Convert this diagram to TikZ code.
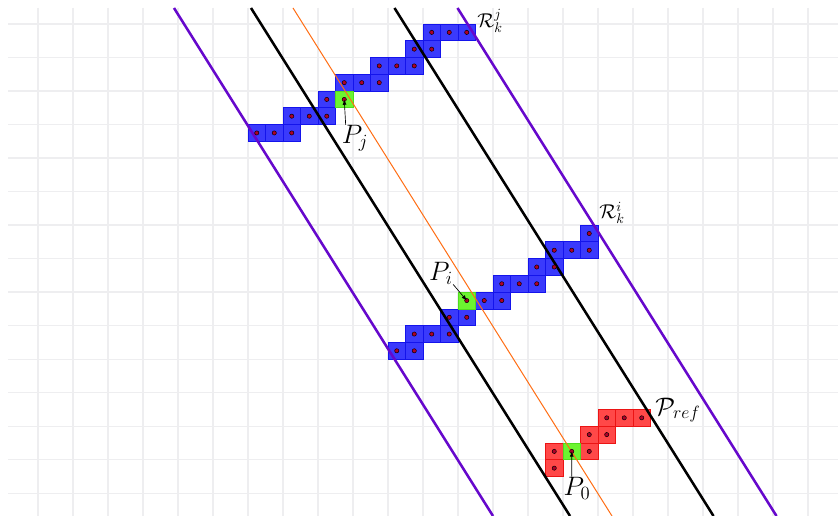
\documentclass[tikz,border=0pt]{standalone}
\usepackage{fix-cm}
\usetikzlibrary{arrows.meta}
\definecolor{cellblue}{RGB}{58,58,252}
\definecolor{cellblueedge}{RGB}{20,20,235}
\definecolor{cellred}{RGB}{255,72,72}
\definecolor{celledgered}{RGB}{235,20,20}
\definecolor{cellgreen}{RGB}{108,245,48}
\definecolor{celledgegreen}{RGB}{80,220,30}
\definecolor{dotred}{RGB}{175,0,40}
\definecolor{linepurple}{RGB}{102,8,204}
\definecolor{lineorange}{RGB}{255,110,20}
\definecolor{gridgray}{RGB}{238,238,240}
\tikzset{
  gridline/.style={draw=gridgray, line width=1pt},
  bluecell/.style={fill=cellblue, draw=cellblueedge, line width=0.6pt},
  redcell/.style={fill=cellred, draw=celledgered, line width=0.6pt},
  greencell/.style={fill=cellgreen, draw=celledgegreen, line width=0.6pt},
  celldot/.style={fill=dotred, draw=black, line width=0.35pt},
  blackline/.style={draw=black, line width=1.9pt},
  purpleline/.style={draw=linepurple, line width=1.9pt},
  orangeline/.style={draw=lineorange, line width=0.75pt},
  plab/.style={inner sep=0pt, font=\fontsize{20}{22}\selectfont},
  rlab/.style={inner sep=0pt, font=\fontsize{15}{17}\selectfont},
  reflab/.style={inner sep=0pt, font=\fontsize{19}{21}\selectfont},
  arr/.style={-{Latex[length=4pt,width=3pt]}, line width=0.5pt, draw=black},
}
\begin{document}
\begin{tikzpicture}[x=0.75pt,y=-0.75pt]
\useasboundingbox (0,0) rectangle (838,516);
\fill[white] (0,0) rectangle (838,516);
% grid
\foreach \k in {0,...,22} \draw[gridline] ({38+35*\k},8) -- ({38+35*\k},516);
\foreach \k in {0,...,14} \draw[gridline] (8,{24+33.52*\k}) -- (838,{24+33.52*\k});
% blue cells
\foreach \i/\j in {22/0,23/0,24/0,21/1,22/1,19/2,20/2,21/2,17/3,18/3,19/3,16/4,14/5,15/5,16/5,12/6,13/6,14/6,
  31/12,29/13,30/13,31/13,28/14,29/14,26/15,27/15,28/15,25/16,26/16,23/17,24/17,21/18,22/18,23/18,20/19,21/19}
  \path[bluecell] ({38+17.5*\i},{24+16.76*\j}) rectangle ++(17.5,16.76);
% red cells
\foreach \i/\j in {32/23,33/23,34/23,31/24,32/24,29/25,31/25,29/26}
  \path[redcell] ({38+17.5*\i},{24+16.76*\j}) rectangle ++(17.5,16.76);
% green cells
\foreach \i/\j in {17/4,24/16,30/25}
  \path[greencell] ({38+17.5*\i},{24+16.76*\j}) rectangle ++(17.5,16.76);
% lines
\draw[purpleline] (174,8) -- (493,516);
\draw[blackline] (251,8) -- (570,516);
\draw[orangeline] (293,8) -- (612,516);
\draw[blackline] (394.5,8) -- (713.5,516);
\draw[purpleline] (457.5,8) -- (776.5,516);
% dots
\foreach \i/\j in {22/0,23/0,24/0,21/1,22/1,19/2,20/2,21/2,17/3,18/3,19/3,16/4,17/4,14/5,15/5,16/5,12/6,13/6,14/6,
  31/12,29/13,30/13,31/13,28/14,29/14,26/15,27/15,28/15,24/16,25/16,26/16,23/17,24/17,21/18,22/18,23/18,20/19,21/19,
  32/23,33/23,34/23,31/24,32/24,29/25,30/25,31/25,29/26}
  \path[celldot] ({38+17.5*(\i+0.5)},{24+16.76*(\j+0.5)}) circle[radius=1.6pt];
% green dot anchors
\coordinate (gj) at ({38+17.5*17.5},{24+16.76*4.5});
\coordinate (gi) at ({38+17.5*24.5},{24+16.76*16.5});
\coordinate (g0) at ({38+17.5*30.5},{24+16.76*25.5});
% labels
\node[plab] (Pj) at (355,138) {$P_j$};
\node[plab] (Pi) at (441,273) {$P_i$};
\node[plab] (P0) at (577,488) {$P_0$};
\node[rlab] (Rj) at (490,21) {$\mathcal{R}_k^j$};
\node[rlab] (Ri) at (612,213) {$\mathcal{R}_k^i$};
\node[reflab] (Pref) at (678,410) {$\mathcal{P}_{ref}$};
\draw[arr] ([xshift=-7pt]Pj.north) -- (gj);
\draw[arr] (Pi.south east) -- (gi);
\draw[arr] ([xshift=-4pt]P0.north) -- (g0);
\end{tikzpicture}
\end{document}
